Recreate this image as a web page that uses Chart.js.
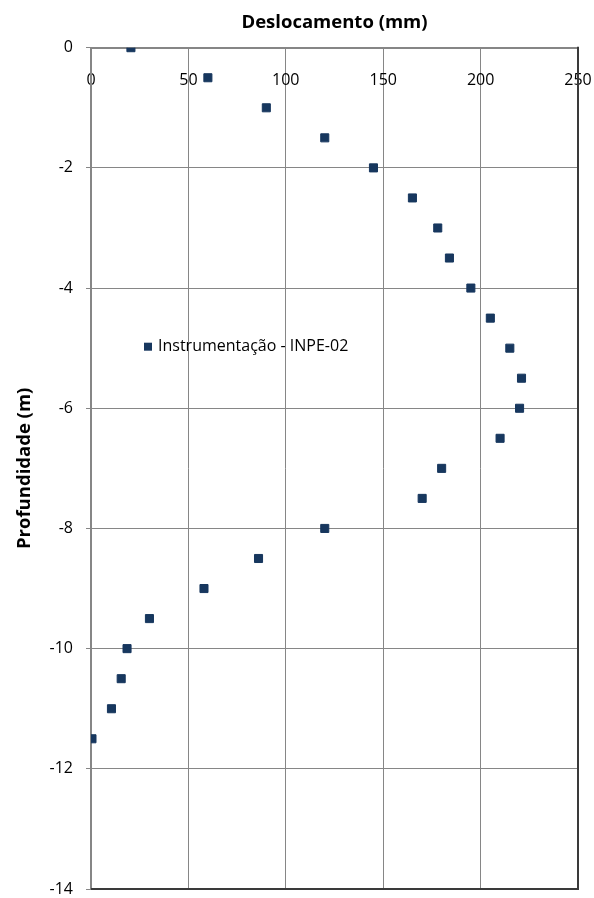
<!DOCTYPE html>
<html lang="pt">
<head>
    <meta charset="UTF-8">
    <title>Deslocamento x Profundidade</title>
    <script src="https://cdn.jsdelivr.net/npm/chart.js"></script>
    <style>
        * {
            margin: 0;
            padding: 0;
            box-sizing: border-box;
        }

        body {
            background: #ffffff;
        }

        .wrap {
            width: 594px;
            height: 898px;
        }
    </style>
</head>
<body>

    <div class="wrap">
        <canvas id="grafico" width="594" height="898"></canvas>
    </div>

    <script>
        // dados (INPE-02)
        const deslocamento = [20.5, 60, 90, 120, 145, 165, 178, 184, 195, 205, 215, 221, 220, 210, 180, 170, 120, 86, 58, 30, 18.5, 15.5, 10.5, 0.5];
        const profundidade = [0, -0.5, -1, -1.5, -2, -2.5, -3, -3.5, -4, -4.5, -5, -5.5, -6, -6.5, -7, -7.5, -8, -8.5, -9, -9.5, -10, -10.5, -11, -11.5];
        const nomeSerie = "Instrumentação - INPE-02";
        const ticksX = [0, 50, 100, 150, 200, 250];
        const ticksY = [0, -2, -4, -6, -8, -10, -12, -14];

        const fonte = "'Open Sans', 'Liberation Sans', sans-serif";
        const corMarcador = '#17375E';
        const corGrade = '#868686';

        // bordas escuras à direita e embaixo + legenda dentro da área
        const extras = {
            id: 'extras',
            afterDraw(chart) {
                const { ctx, chartArea } = chart;
                ctx.save();
                ctx.strokeStyle = '#3a3a3a';
                ctx.lineWidth = 2;
                ctx.beginPath();
                ctx.moveTo(chartArea.right, chartArea.top - 1);
                ctx.lineTo(chartArea.right, chartArea.bottom);
                ctx.lineTo(chartArea.left, chartArea.bottom);
                ctx.stroke();

                // legenda
                const lx = chartArea.left + 57;
                const ly = chartArea.top + 299;
                ctx.fillStyle = corMarcador;
                ctx.fillRect(lx - 4, ly - 4, 8, 8);
                ctx.fillStyle = '#000';
                ctx.font = "16px " + fonte;
                ctx.textBaseline = 'middle';
                ctx.textAlign = 'left';
                ctx.fillText(chart.data.datasets[0].label, lx + 10, ly);
                ctx.restore();
            }
        };

        const ctx = document.getElementById('grafico').getContext('2d');

        new Chart(ctx, {
            type: 'scatter',
            data: {
                datasets: [{
                    label: nomeSerie,
                    data: deslocamento.map((d, i) => ({ x: d, y: profundidade[i] })),
                    pointStyle: 'rect',
                    pointRadius: 5.7,
                    pointHoverRadius: 5.7,
                    backgroundColor: corMarcador,
                    borderColor: corMarcador,
                    borderWidth: 1
                }]
            },
            options: {
                responsive: false,
                animation: false,
                layout: {
                    padding: { left: 0, right: 16, top: 0, bottom: 9 }
                },
                plugins: {
                    legend: { display: false },
                    tooltip: { enabled: false },
                    title: {
                        display: true,
                        text: 'Deslocamento (mm)',
                        color: '#000',
                        fullSize: false,
                        font: { family: fonte, size: 18.5, weight: 'bold' },
                        padding: { top: 12, bottom: 13.5 }
                    }
                },
                scales: {
                    x: {
                        type: 'linear',
                        position: { y: 0 },
                        min: 0,
                        max: 250,
                        afterBuildTicks: (s) => { s.ticks = ticksX.map(v => ({ value: v })); },
                        afterFit: (s) => { s.paddingLeft = 0; s.paddingRight = 0; },
                        grid: { color: corGrade, lineWidth: 1, drawTicks: true, tickLength: 23, tickColor: corGrade },
                        border: { display: true, color: corGrade, width: 2 },
                        ticks: {
                            color: '#000',
                            padding: 0,
                            maxRotation: 0,
                            font: { family: fonte, size: 16 }
                        }
                    },
                    y: {
                        type: 'linear',
                        position: 'left',
                        min: -14,
                        max: 0,
                        afterBuildTicks: (s) => { s.ticks = ticksY.map(v => ({ value: v })); },
                        afterFit: (s) => { s.width = 91; s.paddingTop = 0; s.paddingBottom = 0; },
                        grid: { color: corGrade, lineWidth: 1, tickLength: 5 },
                        border: { display: true, color: corGrade, width: 2 },
                        ticks: {
                            color: '#000',
                            padding: 13,
                            font: { family: fonte, size: 16 }
                        },
                        title: {
                            display: true,
                            text: 'Profundidade (m)',
                            color: '#000',
                            font: { family: fonte, size: 18.5, weight: 'bold' },
                            padding: { top: 14, bottom: 0 }
                        }
                    }
                }
            },
            plugins: [extras]
        });
    </script>

</body>
</html>
